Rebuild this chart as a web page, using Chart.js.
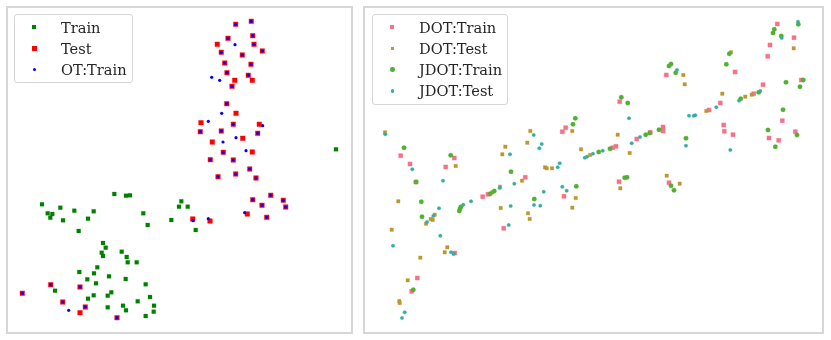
<!DOCTYPE html>
<html>
<head>
<meta charset="utf-8">
<script src="https://cdn.jsdelivr.net/npm/chart.js@4/dist/chart.umd.min.js"></script>
<style>
  body { margin: 0; background: #fff; width: 831px; height: 340px; position: relative; overflow: hidden; font-family: "DejaVu Serif", serif; }
  .frame { position: absolute; top: 6px; height: 328px; border: 2px solid #d6d6d6; box-sizing: border-box; }
  .frame canvas { position: absolute; left: 0; top: 0; }
  .legend { position: absolute; top: 14px; background: rgba(255,255,255,0.85); border: 1px solid #d6d6d6; border-radius: 3px; padding: 1.5px 0 2px 0; }
  .legend .row { position: relative; height: 21.3px; }
  .legend .mark { position: absolute; }
  .legend .label { position: absolute; left: 46px; top: 0; line-height: 21.3px; font-size: 14.6px; color: #262626; white-space: nowrap; }
</style>
</head>
<body>
<div class="frame" style="left:6px;width:347px;"><canvas id="leftChart" width="343" height="324"></canvas></div>
<div class="frame" style="left:363px;width:461px;"><canvas id="rightChart" width="457" height="324"></canvas></div>
<div class="legend" id="leftLegend" style="left:14px;width:117px;"></div>
<div class="legend" id="rightLegend" style="left:372px;width:134px;"></div>
<script>
// left panel: embedding of train / test points and OT mapping
const trainX = [336, 114.3, 126, 130, 42, 60.3, 47.7, 52.3, 50.3, 74.3, 93.7, 63, 88, 78.7, 143.3, 147.7, 181.3, 179, 187.7, 171.3, 195.7,
  103, 105.7, 101.7, 103, 121.7, 126.7, 127.7, 136.7, 97.3, 79.3, 94, 87.3, 109, 125.7, 96, 145.7, 55, 93.7, 107.7, 111.3, 88, 150,
  137.7, 123, 126, 154, 107.7, 153.7, 145.7];
const trainY = [149.3, 194, 195.7, 195.3, 204.3, 207.7, 213.3, 214, 217.7, 210.7, 211.3, 220.3, 218.7, 231, 213.3, 225, 201.3, 206.7, 206.7, 220, 230,
  243, 247.7, 252.7, 256, 251.7, 257, 262.3, 262.3, 267.3, 272, 273.3, 279.3, 276.3, 279, 283.3, 284.3, 290.7, 295.3, 295.7, 292.3, 298.7, 297,
  301.3, 305.7, 310.3, 305.7, 307.3, 311.7, 316];

const testX = [235.7, 251.3, 228, 252.7, 217.3, 254, 221.3, 262.3, 242.3, 224.7, 251, 227, 248.3, 234.7, 252.3, 232, 226.7, 236, 201, 233.3,
  259.3, 200.3, 221.3, 257.7, 212.3, 242.7, 252.3, 223.3, 210.3, 233.3, 249.7, 218, 235.7, 256, 270.7, 252.7, 283.3, 262, 285.7, 247.3,
  266.7, 192.7, 210, 22.3, 50.7, 80, 62.7, 85.3, 80, 117];
const testY = [24.3, 21.3, 38.3, 35.7, 44.3, 44.3, 52.3, 51, 55, 63, 64.3, 72.7, 75.3, 80.3, 80.3, 86.3, 103.7, 113.3, 122.7, 124.3,
  124.3, 131.7, 131, 133.3, 142, 138.3, 152, 152.3, 159.7, 160, 169, 176.7, 174, 178, 195.3, 199.7, 200.3, 205.3, 207, 214,
  217.3, 219, 221, 293.3, 284.7, 287, 302, 307, 312.7, 317.7];

const otTrainX = [235.7, 251.3, 228, 252.7, 235, 254, 221.3, 262.3, 242.3, 224.7, 251, 227, 248.3, 211.7, 219.7, 232, 226.7, 221.7, 208.3, 233.3,
  262.7, 200.3, 221.3, 257.7, 223, 236, 246, 223.3, 210.3, 233.3, 249.7, 218, 235.7, 256, 270.7, 252.7, 283.3, 262, 285.7, 244.7,
  266.7, 193, 208.3, 22.3, 50.7, 80, 62.7, 85.3, 68.7, 117];
const otTrainY = [24.3, 21.3, 38.3, 35.7, 44.7, 44.3, 52.3, 51, 55, 63, 64.3, 72.7, 75.3, 77.3, 80.3, 86.3, 103.7, 113.3, 121.3, 124.3,
  125.7, 131.7, 131, 133.3, 142, 137.7, 150.7, 152.3, 159.7, 160, 169, 176.7, 174, 178, 195.3, 199.7, 200.3, 205.3, 207, 212.7,
  217.3, 220.7, 218.7, 293.3, 284.7, 287, 302, 307, 310.3, 317.7];

// right panel: DOT vs JDOT predictions
const dotTrainX = [400.7, 410, 454.3, 445.7, 562.3, 565.7, 612.7, 616, 619.7, 636.7, 650.3, 663, 663, 666.3, 709, 720.3, 723.7, 724.3, 733, 735,
  753.7, 763, 767.7, 770, 777.3, 769, 778.7, 782.3, 794, 801.3, 795.3, 416, 482.7, 488, 503.7, 525.3, 564, 454.7, 417.3, 411.7, 619, 669];
const dotTrainY = [155.7, 164, 158, 167, 131.7, 127.7, 147.7, 146.3, 101.7, 139, 132.3, 127, 131, 75, 110, 103, 125, 131.3, 134.7, 72,
  93.7, 84.7, 56.3, 45, 24, 138, 140.3, 120.7, 37.7, 80, 131.7, 182, 196.7, 194.3, 228.3, 177.3, 196.3, 253, 278, 291.3, 181.7, 182.7];

const dotTestX = [385, 455.7, 502.3, 505.3, 527.3, 530.3, 545, 546.7, 552, 572.3, 581, 590, 617.7, 629.7, 683.3, 684.7, 706.3, 722.3, 731, 745.3,
  751.7, 793.7, 398.3, 434.7, 430.7, 432.7, 426, 391.7, 447.3, 444.7, 420.3, 407.7, 399.3, 399.7, 492.3, 500, 500.7, 522, 528, 529.7,
  572.3, 575.7, 620.3, 666.7, 679.7];
const dotTestY = [132.3, 166, 154.3, 146.7, 142.7, 131, 167.3, 168.3, 168.3, 131, 149.3, 155, 134.7, 153, 75, 84.3, 111, 93.7, 52.3, 96.7,
  94.7, 48.3, 201.3, 214.7, 219, 220, 223.7, 229.7, 247.3, 252.3, 257.7, 280.3, 301, 303, 192.3, 186.7, 208, 180.7, 213.3, 219,
  207.7, 198, 188.3, 175.7, 183.7];

const jdotTrainX = [404, 450.7, 573, 575.3, 598.7, 610, 621.3, 627.7, 645.7, 649.7, 659, 669, 671, 675.7, 686, 726.3, 729.3, 740.7, 758.7, 773,
  774.3, 781.3, 768, 775.3, 783, 786, 798.3, 803.3, 800, 797, 416, 421.3, 422, 413.3, 459.3, 460, 461, 490.3, 494.3, 511,
  534.3, 576.3, 624.7, 627, 671, 674];
const jdotTrainY = [147.7, 155.3, 124.3, 118.3, 152, 148.7, 97.3, 103, 134.7, 133, 129.7, 66, 64, 72.7, 138.3, 64.3, 53.7, 98.7, 92.3, 33,
  29.3, 36, 130, 146.7, 109.7, 82.3, 24.3, 80, 86.7, 135, 182, 201.7, 216.7, 289.7, 211, 208.7, 206.7, 193.7, 191, 171.7,
  199, 186.3, 177.7, 177.3, 185.7, 190.3];

const jdotTestX = [385.3, 412.3, 510, 533.7, 539.3, 541.7, 557.7, 559.7, 584.7, 587, 593, 602.7, 629, 631.7, 640, 677, 686, 689, 693.7, 695.3,
  716.3, 730.3, 739, 760.3, 781.7, 798, 443, 439, 433.3, 427, 440.3, 393, 451, 453.7, 404.7, 402, 463.3, 471, 499.7, 508.7,
  510.7, 514.3, 534, 540.3, 543.7, 562.3, 566.7];
const jdotTestY = [134.3, 169.3, 154.3, 135, 148.3, 144, 167.3, 163.3, 157.7, 156.7, 153.7, 150.7, 118.3, 143.3, 137, 70, 145.7, 115.7, 115.7, 115.3,
  107.3, 150, 100.7, 91, 38, 21.7, 180.7, 208.3, 216, 222, 235.7, 245.7, 252.3, 254, 312.3, 318, 204.7, 201.3, 188, 225,
  206, 183.7, 205, 205.7, 191.7, 186.7, 190.7];

const toPoints = (xs, ys) => xs.map((x, i) => ({ x: x, y: ys[i] }));

const leftSets = [
  { label: "Train", data: toPoints(trainX, trainY), pointStyle: "rect", pointRadius: 2.8, backgroundColor: "#008000",
    borderColor: "rgba(0,128,0,0.3)", borderWidth: 0.8, order: 3 },
  { label: "Test", data: toPoints(testX, testY), pointStyle: "rect", pointRadius: 3.3, backgroundColor: "#ff0000",
    borderColor: "rgba(255,0,0,0.35)", borderWidth: 1, order: 2 },
  { label: "OT:Train", data: toPoints(otTrainX, otTrainY), pointStyle: "circle", pointRadius: 1.6, backgroundColor: "#0000ff",
    borderWidth: 0, order: 1 }
];

const rightSets = [
  { label: "DOT:Train", data: toPoints(dotTrainX, dotTrainY), pointStyle: "rect", pointRadius: 3, backgroundColor: "#f77189",
    borderColor: "rgba(247,113,137,0.3)", borderWidth: 0.8, order: 4 },
  { label: "DOT:Test", data: toPoints(dotTestX, dotTestY), pointStyle: "rect", pointRadius: 2.5, backgroundColor: "#bb9832",
    borderColor: "rgba(187,152,50,0.3)", borderWidth: 0.8, order: 3 },
  { label: "JDOT:Train", data: toPoints(jdotTrainX, jdotTrainY), pointStyle: "circle", pointRadius: 2.3, backgroundColor: "#50b131",
    borderColor: "rgba(80,177,49,0.3)", borderWidth: 0.8, order: 2 },
  { label: "JDOT:Test", data: toPoints(jdotTestX, jdotTestY), pointStyle: "circle", pointRadius: 1.8, backgroundColor: "#36ada4",
    borderColor: "rgba(54,173,164,0.3)", borderWidth: 0.8, order: 1 }
];

function makeChart(id, xMin, xMax, sets) {
  return new Chart(document.getElementById(id), {
    type: "scatter",
    data: { datasets: sets },
    options: {
      responsive: false,
      animation: false,
      events: [],
      layout: { padding: 0, autoPadding: false },
      plugins: { legend: { display: false }, tooltip: { enabled: false } },
      scales: {
        x: { type: "linear", display: false, min: xMin, max: xMax },
        y: { type: "linear", display: false, min: 8, max: 332, reverse: true }
      }
    }
  });
}

// html legend built from the datasets, placed in the upper left of each panel
function buildLegend(boxId, sets) {
  const box = document.getElementById(boxId);
  sets.forEach(ds => {
    const row = document.createElement("div");
    row.className = "row";
    const mark = document.createElement("span");
    mark.className = "mark";
    const side = ds.pointStyle === "rect" ? ds.pointRadius * Math.SQRT2 : ds.pointRadius * 2;
    mark.style.width = side + "px";
    mark.style.height = side + "px";
    mark.style.left = (19.3 - side / 2) + "px";
    mark.style.top = (10.65 - side / 2) + "px";
    mark.style.background = ds.backgroundColor;
    if (ds.pointStyle === "circle") mark.style.borderRadius = "50%";
    const label = document.createElement("span");
    label.className = "label";
    label.textContent = ds.label;
    row.appendChild(mark);
    row.appendChild(label);
    box.appendChild(row);
  });
}

makeChart("leftChart", 8, 351, leftSets);
makeChart("rightChart", 365, 822, rightSets);
buildLegend("leftLegend", leftSets);
buildLegend("rightLegend", rightSets);
</script>
</body>
</html>
